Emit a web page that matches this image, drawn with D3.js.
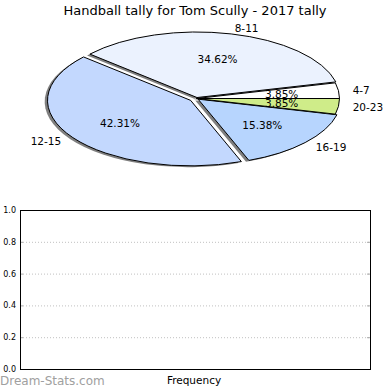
<!DOCTYPE html>
<html><head><meta charset="utf-8">
<script src="https://cdn.jsdelivr.net/npm/d3@7"></script>
<style>body{margin:0;background:#fff}svg{display:block}text{font-family:"DejaVu Sans",sans-serif}</style>
</head><body><svg id="c" width="390" height="390"></svg>
<script>
const title = "Handball tally for Tom Scully - 2017 tally";
const categories = ["4-7", "8-11", "12-15", "16-19", "20-23"];
const counts = [1, 9, 11, 4, 1];
const explode = [0, 0.015, 0.05, 0.015, 0];
const colors = ["#ffffff", "#ebf2fe", "#c3d8fe", "#b7d5fe", "#cfec89"];
const yTicks = [0, 0.2, 0.4, 0.6, 0.8, 1.0];
const xLabel = "Frequency";
const watermark = "Dream-Stats.com";

const svg = d3.select("#c");
const cx = 196.5, cy = 98.5, rx = 143, ry = 65.5;
const sx = d3.scaleLinear().domain([-1, 1]).range([cx - rx, cx + rx]);
const sy = d3.scaleLinear().domain([-1, 1]).range([cy + ry, cy - ry]);

svg.append("text").attr("x", 195).attr("y", 10).attr("text-anchor", "middle")
  .attr("dominant-baseline", "central").attr("font-size", 13).attr("fill", "#000").text(title);

const total = d3.sum(counts);
const pie = d3.pie().sort(null).startAngle(Math.PI / 2).endAngle(Math.PI / 2 - 2 * Math.PI);
const arcs = pie(counts).map((d, i) => {
  const m = (d.startAngle + d.endAngle) / 2;
  const ux = Math.sin(m), uy = Math.cos(m);
  return {...d, i, ux, uy, ox: explode[i] * ux, oy: explode[i] * uy};
});
const arc = d3.arc().innerRadius(0).outerRadius(1);

const g = svg.append("g");
arcs.forEach(a => {
  g.append("path").attr("d", arc(a))
    .attr("transform", `translate(${sx(a.ox - 0.02)},${sy(a.oy - 0.02)}) scale(${rx},${ry})`)
    .attr("fill", "#2a2a2a").attr("fill-opacity", 0.6).attr("stroke", "none");
});
arcs.forEach(a => {
  g.append("path").attr("d", arc(a))
    .attr("transform", `translate(${sx(a.ox)},${sy(a.oy)}) scale(${rx},${ry})`)
    .attr("fill", colors[a.i]).attr("stroke", "#000").attr("stroke-width", 1)
    .attr("vector-effect", "non-scaling-stroke").attr("stroke-linejoin", "round");
});
arcs.forEach(a => {
  g.append("text").attr("x", sx(a.ox + 1.1 * a.ux)).attr("y", sy(a.oy + 1.1 * a.uy))
    .attr("text-anchor", a.ux > 0 ? "start" : "end").attr("dominant-baseline", "central")
    .attr("font-size", 10.5).text(categories[a.i]);
  g.append("text").attr("x", sx(a.ox + 0.6 * a.ux)).attr("y", sy(a.oy + 0.6 * a.uy))
    .attr("text-anchor", "middle").attr("dominant-baseline", "central")
    .attr("font-size", 10.5).text((counts[a.i] / total * 100).toFixed(2) + "%");
});

const L = 20, R = 370, T = 210, B = 369;
const y = d3.scaleLinear().domain([0, 1]).range([B, T]);
const ax = svg.append("g");
yTicks.slice(1, -1).forEach(t => {
  ax.append("line").attr("x1", L).attr("x2", R).attr("y1", y(t) + 0.5).attr("y2", y(t) + 0.5)
    .attr("stroke", "#c0c0c0").attr("stroke-width", 1).attr("stroke-dasharray", "1,2");
});
const yl = ax.append("g").attr("transform", `translate(${L},0)`)
  .call(d3.axisLeft(y).tickValues(yTicks).tickFormat(d3.format(".1f")).tickSizeInner(-3).tickSizeOuter(0).tickPadding(4));
yl.select(".domain").remove();
yl.selectAll("line").attr("stroke", "#aaa");
yl.selectAll("text").attr("font-size", 8).attr("font-family", "DejaVu Sans").attr("fill", "#000");
const yr = ax.append("g").attr("transform", `translate(${R},0)`)
  .call(d3.axisRight(y).tickValues(yTicks).tickFormat("").tickSizeInner(-3).tickSizeOuter(0));
yr.select(".domain").remove();
yr.selectAll("line").attr("stroke", "#aaa");
ax.append("rect").attr("x", L + 0.5).attr("y", T + 0.5).attr("width", R - L).attr("height", B - T)
  .attr("fill", "none").attr("stroke", "#000").attr("stroke-width", 1);
svg.append("text").attr("x", 194).attr("y", 380).attr("text-anchor", "middle")
  .attr("dominant-baseline", "central").attr("font-size", 10.5).text(xLabel);
svg.append("text").attr("x", 0).attr("y", 381).attr("dominant-baseline", "central")
  .attr("font-size", 12).attr("fill", "#a0a0a0").text(watermark);
</script></body></html>
